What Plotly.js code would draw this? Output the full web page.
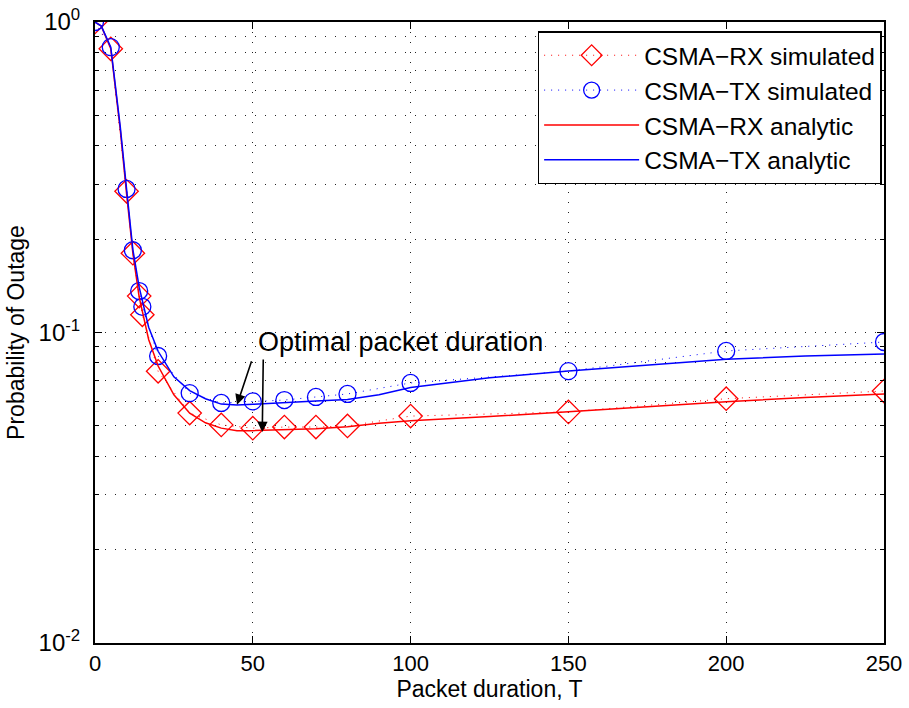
<!DOCTYPE html>
<html>
<head>
<meta charset="utf-8">
<script src="https://cdn.plot.ly/plotly-3.0.1.min.js"></script>
<style>html,body{margin:0;padding:0;background:#fff;}#plot{width:909px;height:708px;}</style>
</head>
<body>
<div id="plot"></div>
<script>
// Simulated points
const simT = [0, 5, 10, 12, 14, 15, 20, 30, 40, 50, 60, 70, 80, 100, 150, 200, 250];
const rxSim = [1.0, 0.82, 0.285, 0.18, 0.131, 0.114, 0.075, 0.055, 0.0504, 0.0492, 0.0496, 0.0496, 0.0500, 0.0538, 0.0555, 0.0612, 0.0648];
const txSim = [1.0, 0.83, 0.29, 0.184, 0.136, 0.121, 0.084, 0.0638, 0.0593, 0.0600, 0.0606, 0.0620, 0.0634, 0.0688, 0.0751, 0.0872, 0.0932];
// Analytic curves
const anT = [0, 2, 5, 8, 10, 12, 14, 15, 17, 20, 25, 30, 35, 40, 45, 50, 60, 70, 80, 90, 100, 125, 150, 175, 200, 225, 250];
const rxAn = [1.0, 0.97, 0.82, 0.45, 0.28, 0.18, 0.13, 0.117, 0.095, 0.078, 0.063, 0.055, 0.0512, 0.0492, 0.0483, 0.0483, 0.0486, 0.049, 0.0497, 0.051, 0.052, 0.0536, 0.0556, 0.0578, 0.0598, 0.0618, 0.0634];
const txAn = [1.0, 0.97, 0.83, 0.46, 0.29, 0.185, 0.14, 0.126, 0.104, 0.087, 0.072, 0.065, 0.0612, 0.0588, 0.0584, 0.0587, 0.0596, 0.0602, 0.0608, 0.063, 0.0665, 0.0715, 0.0751, 0.0785, 0.082, 0.084, 0.0853];
const xTicks = [0, 50, 100, 150, 200, 250];
const yTicks = [0.01, 0.1, 1];
const yTickLabels = ['10<sup>-2</sup>', '10<sup>-1</sup>', '10<sup>0</sup>'];

const font = 'Liberation Sans, Arial, Helvetica, sans-serif';
const gridDash = '1px,9px';
const traces = [
  {x: simT, y: rxSim, name: 'CSMA\u2212RX simulated', mode: 'lines+markers',
   line: {color: '#ff0000', width: 1, dash: '1px,6px'},
   marker: {symbol: 'diamond-open', size: 18, color: '#ff0000', line: {width: 1.3, color: '#ff0000'}}},
  {x: simT, y: txSim, name: 'CSMA\u2212TX simulated', mode: 'lines+markers',
   line: {color: '#0000ff', width: 1, dash: '1px,6px'},
   marker: {symbol: 'circle-open', size: 17, color: '#0000ff', line: {width: 1.3, color: '#0000ff'}}},
  {x: anT, y: rxAn, name: 'CSMA\u2212RX analytic', mode: 'lines',
   line: {color: '#ff0000', width: 1.5}},
  {x: anT, y: txAn, name: 'CSMA\u2212TX analytic', mode: 'lines',
   line: {color: '#0000ff', width: 1.5}}
];

const layout = {
  width: 909, height: 708,
  margin: {l: 95, r: 25, t: 22, b: 65},
  paper_bgcolor: '#fff', plot_bgcolor: '#fff',
  font: {family: font, size: 22, color: '#000'},
  showlegend: true,
  legend: {x: 0.997, y: 0.985, xanchor: 'right', yanchor: 'top',
    bgcolor: '#fff', bordercolor: '#000', borderwidth: 1.5,
    font: {family: font, size: 24.5}, itemwidth: 95, tracegroupgap: 0},
  xaxis: {
    range: [0, 250], tickvals: xTicks, ticks: 'inside', ticklen: 7, tickcolor: '#000',
    showline: true, linecolor: '#000', linewidth: 2, mirror: 'ticks',
    showgrid: true, gridcolor: '#222', griddash: gridDash, gridwidth: 1,
    zeroline: false, tickfont: {size: 22},
    title: {text: 'Packet duration, T', font: {size: 23}, standoff: 4}
  },
  yaxis: {
    type: 'log', range: [-2, 0], tickvals: yTicks, ticktext: yTickLabels,
    ticks: 'inside', ticklen: 7, tickcolor: '#000', ticklabelstandoff: 8,
    showline: true, linecolor: '#000', linewidth: 2, mirror: 'ticks',
    showgrid: true, gridcolor: '#222', griddash: gridDash, gridwidth: 1,
    minor: {dtick: 'D1', ticks: 'inside', ticklen: 4, tickcolor: '#000',
            showgrid: true, gridcolor: '#222', griddash: gridDash, gridwidth: 1},
    zeroline: false, tickfont: {size: 24},
    title: {text: 'Probability of Outage', font: {size: 23}, standoff: 8}
  },
  annotations: [
    {x: 45, y: Math.log10(0.0585), xref: 'x', yref: 'y', text: '', showarrow: true,
     ax: 15, ay: -45, arrowhead: 2, arrowsize: 1.3, arrowwidth: 1.6, arrowcolor: '#000'},
    {x: 53, y: Math.log10(0.0478), xref: 'x', yref: 'y', text: '', showarrow: true,
     ax: 1, ay: -74, arrowhead: 2, arrowsize: 1.3, arrowwidth: 1.6, arrowcolor: '#000'},
    {x: 51, y: Math.log10(0.0935), xref: 'x', yref: 'y', text: 'Optimal packet duration', showarrow: false,
     xanchor: 'left', yanchor: 'middle', font: {family: font, size: 27, color: '#000'}}
  ]
};

Plotly.newPlot('plot', traces, layout, {displayModeBar: false, staticPlot: true});
</script>
</body>
</html>
